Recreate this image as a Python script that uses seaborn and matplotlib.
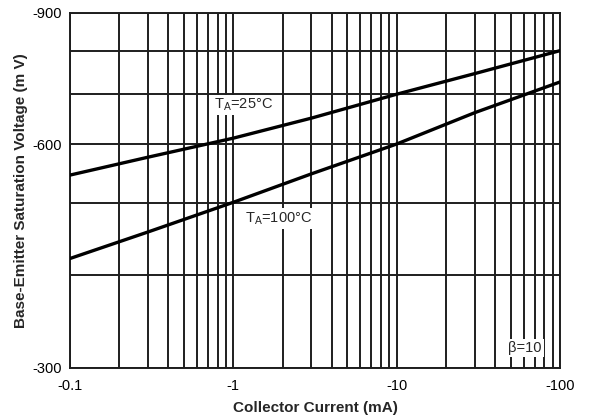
import matplotlib
matplotlib.use("Agg")
import matplotlib.pyplot as plt
import seaborn as sns
import pandas as pd
from matplotlib.ticker import FixedLocator, NullFormatter, FixedFormatter

# Data (magnitudes; axis labels show negative values)
current_ma = [0.1, 0.3, 1, 3, 10, 30, 100]
vbe_25c = [545, 576, 611, 650, 700, 746, 801]
vbe_100c = [421, 457, 501, 547, 600, 661, 727]
x_ticks = [0.1, 1, 10, 100]
x_tick_labels = ["-0.1", "-1", "-10", "-100"]
y_ticks = [300, 600, 900]
y_tick_labels = ["-300", "-600", "-900"]

df = pd.concat([
    pd.DataFrame({"Ic": current_ma, "Vbe": vbe_25c, "T": "25"}),
    pd.DataFrame({"Ic": current_ma, "Vbe": vbe_100c, "T": "100"}),
])

sns.set_theme(style="white")
plt.rcParams["font.family"] = ["Liberation Sans", "DejaVu Sans"]
plt.rcParams["mathtext.fontset"] = "custom"
plt.rcParams["mathtext.rm"] = "Liberation Sans"

fig = plt.figure(figsize=(5.89, 4.19), dpi=100)
ax = fig.add_axes([70/589, 1-368/419, 490/589, 355/419])

ax.set_xscale("log")
ax.set_yscale("log")
ax.set_xlim(0.1, 100)
ax.set_ylim(300, 900)

grid_color = "#1e1e1e"
xg = [m * d for d in [0.1, 1, 10] for m in range(1, 10)] + [100]
for xv in xg:
    ax.axvline(xv, color=grid_color, lw=1.4, zorder=1)
for yv in [300, 400, 500, 600, 700, 800, 900]:
    ax.axhline(yv, color=grid_color, lw=1.4, zorder=1)

sns.lineplot(data=df, x="Ic", y="Vbe", hue="T", palette=["black", "black"],
             legend=False, lw=2.4, ax=ax, zorder=3, sort=True)

ax.xaxis.set_major_locator(FixedLocator(x_ticks))
ax.xaxis.set_major_formatter(FixedFormatter(x_tick_labels))
ax.xaxis.set_minor_locator(FixedLocator([]))
ax.xaxis.set_minor_formatter(NullFormatter())
ax.yaxis.set_major_locator(FixedLocator(y_ticks))
ax.yaxis.set_major_formatter(FixedFormatter(y_tick_labels))
ax.yaxis.set_minor_locator(FixedLocator([]))
ax.yaxis.set_minor_formatter(NullFormatter())
ax.tick_params(axis="x", length=0, labelsize=10.5, colors="black", pad=8)
ax.tick_params(axis="y", length=0, labelsize=10.5, colors="black", pad=6)

for s in ax.spines.values():
    s.set_color(grid_color)
    s.set_linewidth(1.4)

ax.set_xlabel("Collector Current (mA)", fontsize=11, fontweight="bold", labelpad=6)
ax.set_ylabel("Base-Emitter Saturation Voltage (m V)", fontsize=11, fontweight="bold", labelpad=3)

bbox = dict(facecolor="white", edgecolor="none", pad=1.5)
ax.text(1.15, 677, r"T$_\mathregular{A}$=25°C", fontsize=10.5, ha="center", va="center",
        bbox=bbox, zorder=4)
ax.text(1.88, 477, r"T$_\mathregular{A}$=100°C", fontsize=10.5, ha="center", va="center",
        bbox=bbox, zorder=4)
ax.text(61, 319, "β=10", fontsize=10.5, ha="center", va="center", bbox=bbox, zorder=4)

fig.savefig("out.png", dpi=100)
